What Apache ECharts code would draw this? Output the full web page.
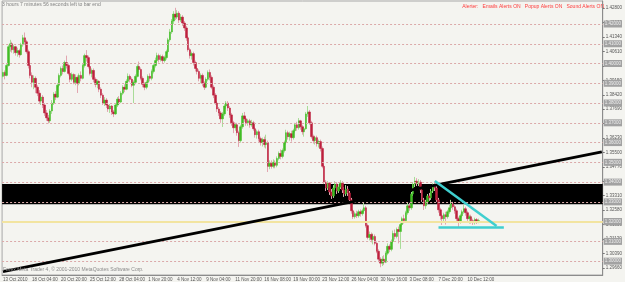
<!DOCTYPE html>
<html>
<head>
<meta charset="utf-8">
<script src="https://cdn.jsdelivr.net/npm/echarts@6/dist/echarts.min.js"></script>
<style>
  html, body { margin: 0; padding: 0; background: #f4f4f0; }
  #chart { width: 625px; height: 282px; }
</style>
</head>
<body>
<div id="chart"></div>
<script>
// EURUSD H4, 13 Oct - 10 Dec 2010
var tickLabels = ["13 Oct 2010", "18 Oct 04:00", "20 Oct 20:00", "25 Oct 12:00", "28 Oct 04:00",
  "1 Nov 20:00", "4 Nov 12:00", "9 Nov 04:00", "11 Nov 20:00", "16 Nov 08:00", "19 Nov 00:00",
  "23 Nov 12:00", "26 Nov 04:00", "30 Nov 16:00", "3 Dec 08:00", "7 Dec 20:00", "10 Dec 12:00"];
var yTicks = [1.4280, 1.4207, 1.4134, 1.4061, 1.3988, 1.3915, 1.3842, 1.3769, 1.3696, 1.3623,
  1.3550, 1.3477, 1.3404, 1.3331, 1.3258, 1.3185, 1.3112, 1.3039, 1.2966];
var levels = [1.42, 1.41, 1.40, 1.39, 1.38, 1.37, 1.36, 1.35, 1.34, 1.33, 1.32, 1.31, 1.30];

var opens = [
  1.3935, 1.3955, 1.3940, 1.3990, 1.4085, 1.4100, 1.4070, 1.4085, 1.4055, 1.4065,
  1.4045, 1.4095, 1.4130, 1.4110, 1.4060, 1.3990, 1.3940, 1.3905, 1.3925, 1.3880,
  1.3850, 1.3810, 1.3830, 1.3790, 1.3750, 1.3725, 1.3710, 1.3760, 1.3800, 1.3845,
  1.3830, 1.3890, 1.3940, 1.3975, 1.3960, 1.4005, 1.3990, 1.3950, 1.3920, 1.3945,
  1.3905, 1.3930, 1.3900, 1.3940, 1.3925, 1.3990, 1.4040, 1.4030, 1.3985, 1.3950,
  1.3965, 1.3920, 1.3895, 1.3910, 1.3870, 1.3840, 1.3800, 1.3815, 1.3790, 1.3770,
  1.3785, 1.3755, 1.3745, 1.3790, 1.3820, 1.3805, 1.3850, 1.3880, 1.3870, 1.3910,
  1.3935, 1.3920, 1.3890, 1.3905, 1.3935, 1.3985, 1.3970, 1.3925, 1.3895, 1.3880,
  1.3905, 1.3935, 1.3925, 1.3960, 1.3990, 1.4015, 1.4040, 1.4020, 1.4035, 1.4015,
  1.4030, 1.4060, 1.4120, 1.4160, 1.4215, 1.4250, 1.4235, 1.4255, 1.4220, 1.4235,
  1.4205, 1.4180, 1.4130, 1.4070, 1.4040, 1.4050, 1.4005, 1.3975, 1.3960, 1.3925,
  1.3940, 1.3900, 1.3880, 1.3920, 1.3955, 1.3930, 1.3880, 1.3840, 1.3800, 1.3770,
  1.3750, 1.3720, 1.3745, 1.3785, 1.3800, 1.3775, 1.3740, 1.3700, 1.3675, 1.3690,
  1.3650, 1.3610, 1.3680, 1.3735, 1.3720, 1.3700, 1.3710, 1.3690, 1.3700, 1.3670,
  1.3640, 1.3655, 1.3620, 1.3600, 1.3615, 1.3590, 1.3600, 1.3480, 1.3495, 1.3480,
  1.3500, 1.3485, 1.3520, 1.3545, 1.3530, 1.3560, 1.3600, 1.3650, 1.3630, 1.3645,
  1.3625, 1.3660, 1.3690, 1.3675, 1.3710, 1.3680, 1.3655, 1.3670, 1.3745, 1.3755,
  1.3700, 1.3630, 1.3610, 1.3625, 1.3595, 1.3605, 1.3570, 1.3480, 1.3400, 1.3370,
  1.3395, 1.3350, 1.3330, 1.3370, 1.3390, 1.3355, 1.3375, 1.3395, 1.3360, 1.3340,
  1.3365, 1.3345, 1.3310, 1.3255, 1.3225, 1.3240, 1.3230, 1.3250, 1.3240, 1.3255,
  1.3270, 1.3180, 1.3120, 1.3135, 1.3110, 1.3125, 1.3090, 1.3050, 1.3010, 1.2990,
  1.3010, 1.2995, 1.3040, 1.3075, 1.3060, 1.3100, 1.3140, 1.3125, 1.3160, 1.3150,
  1.3185, 1.3215, 1.3205, 1.3245, 1.3280, 1.3270, 1.3340, 1.3390, 1.3405, 1.3395,
  1.3400, 1.3360, 1.3310, 1.3280, 1.3300, 1.3330, 1.3320, 1.3355, 1.3385, 1.3370,
  1.3310, 1.3260, 1.3230, 1.3215, 1.3235, 1.3225, 1.3250, 1.3270, 1.3290, 1.3275,
  1.3255, 1.3215, 1.3200, 1.3230, 1.3250, 1.3265, 1.3245, 1.3215, 1.3225, 1.3205,
  1.3195, 1.3210, 1.3200
];
var closes = [
  1.3955, 1.3940, 1.3990, 1.4085, 1.4100, 1.4070, 1.4085, 1.4055, 1.4065, 1.4045,
  1.4095, 1.4130, 1.4110, 1.4060, 1.3990, 1.3940, 1.3905, 1.3925, 1.3880, 1.3850,
  1.3810, 1.3830, 1.3790, 1.3750, 1.3725, 1.3710, 1.3760, 1.3800, 1.3845, 1.3830,
  1.3890, 1.3940, 1.3975, 1.3960, 1.4005, 1.3990, 1.3950, 1.3920, 1.3945, 1.3905,
  1.3930, 1.3900, 1.3940, 1.3925, 1.3990, 1.4040, 1.4030, 1.3985, 1.3950, 1.3965,
  1.3920, 1.3895, 1.3910, 1.3870, 1.3840, 1.3800, 1.3815, 1.3790, 1.3770, 1.3785,
  1.3755, 1.3745, 1.3790, 1.3820, 1.3805, 1.3850, 1.3880, 1.3870, 1.3910, 1.3935,
  1.3920, 1.3890, 1.3905, 1.3935, 1.3985, 1.3970, 1.3925, 1.3895, 1.3880, 1.3905,
  1.3935, 1.3925, 1.3960, 1.3990, 1.4015, 1.4040, 1.4020, 1.4035, 1.4015, 1.4030,
  1.4060, 1.4120, 1.4160, 1.4215, 1.4250, 1.4235, 1.4255, 1.4220, 1.4235, 1.4205,
  1.4180, 1.4130, 1.4070, 1.4040, 1.4050, 1.4005, 1.3975, 1.3960, 1.3925, 1.3940,
  1.3900, 1.3880, 1.3920, 1.3955, 1.3930, 1.3880, 1.3840, 1.3800, 1.3770, 1.3750,
  1.3720, 1.3745, 1.3785, 1.3800, 1.3775, 1.3740, 1.3700, 1.3675, 1.3690, 1.3650,
  1.3610, 1.3680, 1.3735, 1.3720, 1.3700, 1.3710, 1.3690, 1.3700, 1.3670, 1.3640,
  1.3655, 1.3620, 1.3600, 1.3615, 1.3590, 1.3600, 1.3480, 1.3495, 1.3480, 1.3500,
  1.3485, 1.3520, 1.3545, 1.3530, 1.3560, 1.3600, 1.3650, 1.3630, 1.3645, 1.3625,
  1.3660, 1.3690, 1.3675, 1.3710, 1.3680, 1.3655, 1.3670, 1.3745, 1.3755, 1.3700,
  1.3630, 1.3610, 1.3625, 1.3595, 1.3605, 1.3570, 1.3480, 1.3400, 1.3370, 1.3395,
  1.3350, 1.3330, 1.3370, 1.3390, 1.3355, 1.3375, 1.3395, 1.3360, 1.3340, 1.3365,
  1.3345, 1.3310, 1.3255, 1.3225, 1.3240, 1.3230, 1.3250, 1.3240, 1.3255, 1.3270,
  1.3180, 1.3120, 1.3135, 1.3110, 1.3125, 1.3090, 1.3050, 1.3010, 1.2990, 1.3010,
  1.2995, 1.3040, 1.3075, 1.3060, 1.3100, 1.3140, 1.3125, 1.3160, 1.3150, 1.3185,
  1.3215, 1.3205, 1.3245, 1.3280, 1.3270, 1.3340, 1.3390, 1.3405, 1.3395, 1.3400,
  1.3360, 1.3310, 1.3280, 1.3300, 1.3330, 1.3320, 1.3355, 1.3385, 1.3370, 1.3310,
  1.3260, 1.3230, 1.3215, 1.3235, 1.3225, 1.3250, 1.3270, 1.3290, 1.3275, 1.3255,
  1.3215, 1.3200, 1.3230, 1.3250, 1.3265, 1.3245, 1.3215, 1.3225, 1.3205, 1.3195,
  1.3210, 1.3200, 1.3205
];
var lows = [
  1.3925, 1.3920, 1.3935, 1.3985, 1.4060, 1.4055, 1.4050, 1.4040, 1.4035, 1.4030,
  1.4040, 1.4085, 1.4095, 1.4050, 1.3975, 1.3925, 1.3880, 1.3870, 1.3850, 1.3835,
  1.3795, 1.3790, 1.3775, 1.3735, 1.3710, 1.3697, 1.3700, 1.3745, 1.3790, 1.3815,
  1.3825, 1.3880, 1.3930, 1.3945, 1.3955, 1.3975, 1.3940, 1.3905, 1.3910, 1.3895,
  1.3890, 1.3851, 1.3890, 1.3910, 1.3920, 1.3980, 1.4010, 1.3975, 1.3940, 1.3930,
  1.3905, 1.3880, 1.3875, 1.3855, 1.3825, 1.3790, 1.3785, 1.3775, 1.3755, 1.3750,
  1.3740, 1.3729, 1.3740, 1.3780, 1.3790, 1.3800, 1.3840, 1.3855, 1.3865, 1.3900,
  1.3905, 1.3880, 1.3800, 1.3895, 1.3930, 1.3955, 1.3915, 1.3880, 1.3865, 1.3870,
  1.3895, 1.3910, 1.3915, 1.3950, 1.3980, 1.4005, 1.4005, 1.4010, 1.4000, 1.4005,
  1.4020, 1.4050, 1.4110, 1.4150, 1.4200, 1.4220, 1.4225, 1.4205, 1.4210, 1.4190,
  1.4165, 1.4115, 1.4060, 1.4025, 1.4020, 1.3990, 1.3960, 1.3945, 1.3910, 1.3900,
  1.3885, 1.3866, 1.3875, 1.3910, 1.3915, 1.3870, 1.3825, 1.3790, 1.3755, 1.3735,
  1.3700, 1.3679, 1.3735, 1.3770, 1.3760, 1.3725, 1.3685, 1.3648, 1.3660, 1.3635,
  1.3578, 1.3600, 1.3670, 1.3705, 1.3685, 1.3685, 1.3675, 1.3680, 1.3660, 1.3625,
  1.3620, 1.3605, 1.3585, 1.3580, 1.3575, 1.3570, 1.3451, 1.3465, 1.3468, 1.3470,
  1.3470, 1.3475, 1.3510, 1.3515, 1.3520, 1.3550, 1.3590, 1.3615, 1.3610, 1.3605,
  1.3615, 1.3650, 1.3660, 1.3665, 1.3665, 1.3640, 1.3630, 1.3665, 1.3730, 1.3690,
  1.3620, 1.3595, 1.3590, 1.3580, 1.3575, 1.3555, 1.3470, 1.3390, 1.3355, 1.3360,
  1.3335, 1.3315, 1.3320, 1.3360, 1.3340, 1.3345, 1.3365, 1.3345, 1.3325, 1.3330,
  1.3330, 1.3300, 1.3240, 1.3213, 1.3215, 1.3218, 1.3220, 1.3225, 1.3230, 1.3245,
  1.3170, 1.3110, 1.3105, 1.3095, 1.3085, 1.3080, 1.3040, 1.2995, 1.2969, 1.2975,
  1.2980, 1.2990, 1.3030, 1.3045, 1.3050, 1.3090, 1.3110, 1.3115, 1.3090, 1.3062,
  1.3175, 1.3190, 1.3195, 1.3235, 1.3255, 1.3260, 1.3330, 1.3375, 1.3380, 1.3380,
  1.3345, 1.3300, 1.3259, 1.3265, 1.3290, 1.3305, 1.3310, 1.3345, 1.3355, 1.3300,
  1.3245, 1.3210, 1.3183, 1.3200, 1.3185, 1.3215, 1.3240, 1.3260, 1.3260, 1.3240,
  1.3200, 1.3173, 1.3190, 1.3220, 1.3240, 1.3230, 1.3200, 1.3190, 1.3190, 1.3183,
  1.3185, 1.3188, 1.3192
];
var highs = [
  1.3970, 1.3965, 1.4000, 1.4095, 1.4120, 1.4110, 1.4095, 1.4090, 1.4080, 1.4075,
  1.4105, 1.4145, 1.4157, 1.4120, 1.4070, 1.4000, 1.3955, 1.3940, 1.3935, 1.3890,
  1.3865, 1.3845, 1.3840, 1.3800, 1.3765, 1.3740, 1.3770, 1.3815, 1.3855, 1.3860,
  1.3900, 1.3950, 1.3985, 1.3990, 1.4015, 1.4040, 1.4000, 1.3965, 1.3955, 1.3950,
  1.3945, 1.3940, 1.3950, 1.3960, 1.4000, 1.4050, 1.4068, 1.4040, 1.3995, 1.3975,
  1.3975, 1.3930, 1.3920, 1.3915, 1.3880, 1.3850, 1.3830, 1.3825, 1.3800, 1.3795,
  1.3790, 1.3765, 1.3800, 1.3830, 1.3835, 1.3860, 1.3890, 1.3895, 1.3920, 1.3950,
  1.3945, 1.3930, 1.3915, 1.3945, 1.3995, 1.4010, 1.3980, 1.3935, 1.3905, 1.3915,
  1.3945, 1.3950, 1.3970, 1.4000, 1.4030, 1.4055, 1.4050, 1.4045, 1.4045, 1.4040,
  1.4070, 1.4130, 1.4175, 1.4225, 1.4265, 1.4282, 1.4270, 1.4265, 1.4250, 1.4245,
  1.4215, 1.4190, 1.4140, 1.4080, 1.4060, 1.4060, 1.4015, 1.3990, 1.3970, 1.3950,
  1.3950, 1.3910, 1.3930, 1.3965, 1.3970, 1.3940, 1.3890, 1.3850, 1.3810, 1.3780,
  1.3760, 1.3755, 1.3795, 1.3810, 1.3810, 1.3785, 1.3750, 1.3710, 1.3700, 1.3700,
  1.3660, 1.3690, 1.3750, 1.3755, 1.3730, 1.3720, 1.3720, 1.3715, 1.3710, 1.3680,
  1.3665, 1.3665, 1.3630, 1.3625, 1.3630, 1.3640, 1.3610, 1.3510, 1.3510, 1.3515,
  1.3510, 1.3530, 1.3555, 1.3565, 1.3570, 1.3610, 1.3665, 1.3660, 1.3655, 1.3660,
  1.3670, 1.3700, 1.3705, 1.3724, 1.3715, 1.3690, 1.3680, 1.3755, 1.3785, 1.3765,
  1.3710, 1.3640, 1.3635, 1.3635, 1.3615, 1.3615, 1.3580, 1.3490, 1.3410, 1.3405,
  1.3400, 1.3365, 1.3385, 1.3405, 1.3400, 1.3390, 1.3410, 1.3405, 1.3375, 1.3385,
  1.3380, 1.3355, 1.3320, 1.3265, 1.3250, 1.3255, 1.3260, 1.3262, 1.3265, 1.3299,
  1.3280, 1.3190, 1.3150, 1.3145, 1.3140, 1.3135, 1.3100, 1.3060, 1.3020, 1.3025,
  1.3030, 1.3050, 1.3090, 1.3085, 1.3110, 1.3155, 1.3160, 1.3170, 1.3175, 1.3195,
  1.3225, 1.3235, 1.3255, 1.3299, 1.3295, 1.3350, 1.3400, 1.3426, 1.3420, 1.3415,
  1.3410, 1.3370, 1.3320, 1.3310, 1.3340, 1.3345, 1.3365, 1.3395, 1.3403, 1.3380,
  1.3320, 1.3270, 1.3240, 1.3245, 1.3250, 1.3260, 1.3285, 1.3310, 1.3300, 1.3285,
  1.3265, 1.3225, 1.3240, 1.3260, 1.3284, 1.3275, 1.3255, 1.3235, 1.3235, 1.3215,
  1.3220, 1.3218, 1.3215
];

// drawn objects (in price / bar-index terms)
var bidPrice = 1.3203;
var zoneTop = 1.3390, zoneBottom = 1.3288;
var trendLine = [[0, 1.2947], [330, 1.3553]];
var triangleSide = [[238, 1.3405], [272, 1.3178]];
var triangleBase = [[240, 1.3173], [276, 1.3173]];

var slotCount = 331; // bar slots across the chart, incl. empty right shift
var categories = [];
for (var i = 0; i < slotCount; i++) categories.push(String(i));

var wickData = opens.map(function(o, i) { return [o, closes[i], lows[i], highs[i]]; });
var bodyData = opens.map(function(o, i) {
  return [o, closes[i], Math.min(o, closes[i]), Math.max(o, closes[i])];
});

function tickAt(idx) {
  return idx % 16 === 0 && idx / 16 < tickLabels.length;
}

var font = "Liberation Sans, Arial, sans-serif";
var levelLines = levels.map(function(v) {
  return {
    yAxis: v,
    lineStyle: { color: "#dba9a9", type: [2, 2], width: 1 },
    label: { show: true }
  };
});
levelLines.push({
  yAxis: bidPrice,
  lineStyle: { color: "#f2e4a0", type: "solid", width: 2 },
  label: { show: true }
});
function segment(pts, color, width) {
  return [
    { coord: pts[0], lineStyle: { color: color, width: width, type: "solid" }, label: { show: false } },
    { coord: pts[1], lineStyle: { color: color, width: width, type: "solid" }, label: { show: false } }
  ];
}

var myChart = echarts.init(document.getElementById("chart"));
var option = {
  backgroundColor: "#f4f4f0",
  animation: false,
  textStyle: { fontFamily: font },
  grid: {
    left: 1, right: 18, top: 1, bottom: 7,
    show: true, borderColor: "#a8a8a8", borderWidth: 1, backgroundColor: "#f4f4f0"
  },
  xAxis: {
    type: "category",
    data: categories,
    boundaryGap: true,
    axisLine: { lineStyle: { color: "#8c8c8c" } },
    axisTick: { alignWithLabel: true, length: 2, interval: tickAt, lineStyle: { color: "#777" } },
    axisLabel: {
      interval: tickAt,
      formatter: function(v, idx) { return tickLabels[idx / 16] || ""; },
      fontSize: 4.5, color: "#555", align: "left", margin: 2, fontFamily: font
    },
    splitLine: { show: false }
  },
  yAxis: {
    type: "value",
    position: "right",
    min: 1.29299,
    max: 1.43164,
    axisLine: { show: true, lineStyle: { color: "#8c8c8c" } },
    axisTick: { show: true, length: 2, customValues: yTicks, lineStyle: { color: "#777" } },
    axisLabel: {
      customValues: yTicks,
      formatter: function(v) { return v.toFixed(5); },
      fontSize: 4.5, color: "#555", margin: 3, fontFamily: font
    },
    splitLine: { show: false }
  },
  graphic: [
    { type: "text", left: 2, top: 2,
      style: { text: "3 hours 7 minutes 56 seconds left to bar end", fontSize: 5, fill: "#808080", fontFamily: font } },
    { type: "text", right: 21, top: 4,
      style: { text: "Alerter:   Emails Alerts ON   Popup Alerts ON   Sound Alerts ON", fontSize: 5, fill: "#ff3b3b", fontFamily: font } },
    { type: "text", left: 3, top: 267, z: 10,
      style: { text: "Forex Meta Trader 4, \u00a9 2001-2010 MetaQuotes Software Corp.", fontSize: 5, fill: "#8a8a8a", fontFamily: font } }
  ],
  series: [
    {
      name: "wicks",
      type: "candlestick",
      data: wickData,
      barWidth: 1,
      z: 2,
      clip: false,
      itemStyle: {
        color: "#a9dc98", color0: "#e2a6b0",
        borderColor: "#a9dc98", borderColor0: "#e2a6b0", borderWidth: 1
      },
      markArea: {
        silent: true,
        itemStyle: { color: "#000" },
        data: [[{ yAxis: zoneTop }, { yAxis: zoneBottom }]]
      },
      markLine: {
        silent: true,
        symbol: ["none", "none"],
        label: {
          position: "end",
          distance: 1,
          formatter: function(p) { return p.value.toFixed(5); },
          fontSize: 4.5,
          color: "#eeeeee",
          backgroundColor: "#a2a2a2",
          padding: [1, 1],
          fontFamily: font
        },
        data: levelLines.concat([
          segment(trendLine, "#000000", 3),
          segment(triangleSide, "#3fcfcf", 2.5),
          segment(triangleBase, "#3fcfcf", 2.5)
        ])
      }
    },
    {
      name: "bodies",
      type: "candlestick",
      data: bodyData,
      barWidth: 2,
      z: 3,
      itemStyle: {
        color: "#41bd24", color0: "#bd1f3c",
        borderColor: "#41bd24", borderColor0: "#bd1f3c", borderWidth: 0.5
      }
    }
  ]
};
myChart.setOption(option);
window.addEventListener("resize", function() {
  myChart.resize();
});
</script>
</body>
</html>
